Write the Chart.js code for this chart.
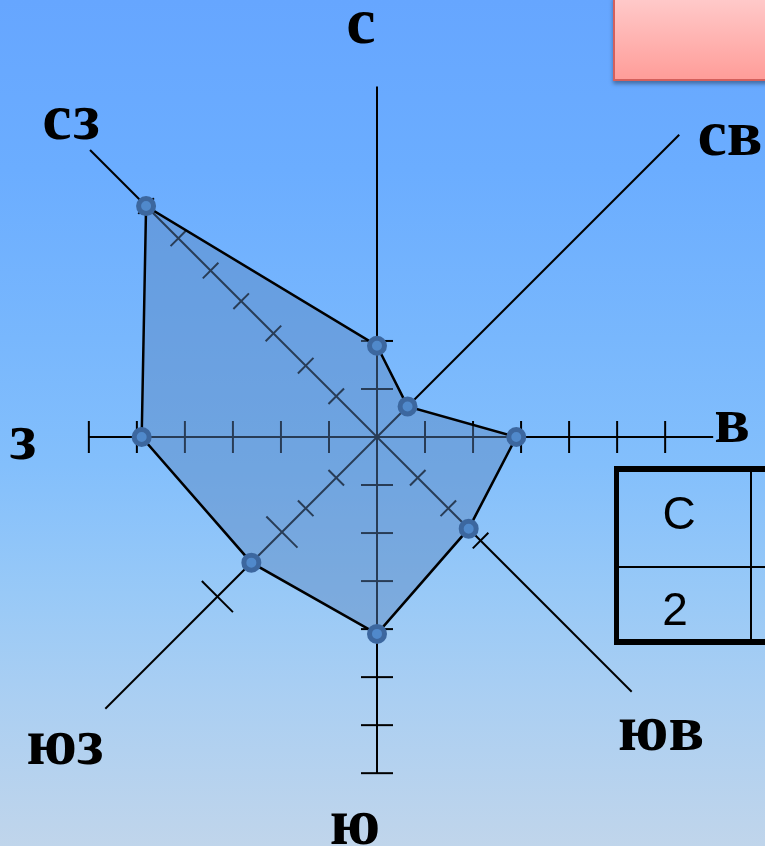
<!DOCTYPE html>
<html lang="ru">
<head>
    <meta charset="UTF-8">
    <title>Роза ветров</title>
    <script src="https://cdn.jsdelivr.net/npm/chart.js"></script>
    <style>
        html, body {
            margin: 0;
            padding: 0;
        }
        body {
            width: 765px;
            height: 846px;
            overflow: hidden;
            position: relative;
            background: linear-gradient(to bottom, #66a6ff 0%, #6badff 20%, #78b7fd 40%, #83bffc 55%, #98c9f7 70%, #abcff2 83%, #c0d5eb 100%);
        }
        #rose {
            position: absolute;
            left: 0;
            top: 0;
        }
        .note {
            position: absolute;
            left: 613px;
            top: -4px;
            width: 200px;
            height: 85px;
            box-sizing: border-box;
            border: 2px solid #d4605c;
            background: linear-gradient(to bottom, #ffcaca, #ff9d99);
            box-shadow: 0 3px 4px rgba(0, 0, 0, 0.35);
        }
        .table {
            position: absolute;
            left: 614px;
            top: 466px;
            width: 220px;
            height: 179px;
            box-sizing: border-box;
            border: 6px solid #000;
            border-left-width: 5px;
        }
        .table .hline {
            position: absolute;
            left: 0;
            right: 0;
            top: 94px;
            height: 2px;
            background: #000;
        }
        .table .vline {
            position: absolute;
            left: 131px;
            top: 0;
            bottom: 0;
            width: 2px;
            background: #000;
        }
        .table .cell {
            position: absolute;
            width: 80px;
            text-align: center;
            font-family: "Liberation Sans", Arial, sans-serif;
            font-size: 46px;
            line-height: 46px;
            color: #000;
        }
    </style>
</head>
<body>
    <canvas id="rose" width="765" height="846"></canvas>
    <div class="note"></div>
    <div class="table">
        <div class="hline"></div>
        <div class="vline"></div>
        <div class="cell" style="left: 20px; top: 18px;">С</div>
        <div class="cell" style="left: 16px; top: 114px;">2</div>
    </div>

    <script>
        // directions clockwise from north
        const directions = ['с', 'св', 'в', 'юв', 'ю', 'юз', 'з', 'сз'];
        const values = [1.9, 0.9, 2.9, 2.7, 4.1, 3.7, 4.9, 6.8];

        // how far each axis line is drawn, in scale units
        const axisLength = [7.3, 8.9, 7.0, 7.5, 7.0, 8.0, 6.0, 8.45];

        // tick marks along each axis
        const tickMarks = [
            [1, 2],
            [],
            [1, 2, 3, 4, 5, 6],
            [1.2, 2.1, 3.05],
            [1, 2, 3, 4, 5, 6, 7],
            [1.2, 2.1],
            [1, 2, 3, 4, 5, 6],
            [1.2, 2.1, 3.05, 4.0, 4.9, 5.85, 6.8]
        ];
        const bigTickMarks = [[], [], [], [], [], [2.8, 4.7], [], []];

        const tickHalf = [16, 11, 16, 11, 16, 11, 16, 11];

        // label anchor (text center, baseline) relative to the rose center
        const labelOffset = [
            [-16, -394], [353, -282], [355, 5], [284, 313],
            [-22, 407], [-312, 327], [-354, 22], [-306, -298]
        ];

        const rosePlugin = {
            id: 'rose',
            beforeDatasetsDraw(chart) {
                const r = chart.scales.r;
                const ctx = chart.ctx;
                ctx.save();
                ctx.strokeStyle = '#000';
                ctx.lineWidth = 2;
                directions.forEach((d, i) => {
                    const end = r.getPointPosition(i, r.getDistanceFromCenterForValue(axisLength[i]));
                    ctx.beginPath();
                    ctx.moveTo(r.xCenter, r.yCenter);
                    ctx.lineTo(end.x, end.y);
                    ctx.stroke();

                    const nx = -Math.sin(end.angle);
                    const ny = Math.cos(end.angle);
                    const drawTick = (v, h) => {
                        const p = r.getPointPosition(i, r.getDistanceFromCenterForValue(v));
                        ctx.beginPath();
                        ctx.moveTo(p.x - nx * h, p.y - ny * h);
                        ctx.lineTo(p.x + nx * h, p.y + ny * h);
                        ctx.stroke();
                    };
                    tickMarks[i].forEach(v => drawTick(v, tickHalf[i]));
                    bigTickMarks[i].forEach(v => drawTick(v, 22));
                });
                ctx.restore();
            },
            afterDraw(chart) {
                const r = chart.scales.r;
                const ctx = chart.ctx;
                ctx.save();
                ctx.fillStyle = '#000';
                ctx.font = 'bold 66px "Liberation Serif", "Times New Roman", serif';
                ctx.textAlign = 'center';
                ctx.textBaseline = 'alphabetic';
                directions.forEach((d, i) => {
                    ctx.fillText(d, r.xCenter + labelOffset[i][0], r.yCenter + labelOffset[i][1]);
                });
                ctx.restore();
            }
        };

        new Chart(document.getElementById('rose'), {
            type: 'radar',
            data: {
                labels: directions,
                datasets: [{
                    data: values,
                    fill: true,
                    backgroundColor: 'rgba(88, 132, 190, 0.45)',
                    borderColor: '#000',
                    borderWidth: 2.5,
                    tension: 0,
                    pointRadius: 7.5,
                    pointBorderWidth: 5,
                    pointBackgroundColor: '#5089cb',
                    pointBorderColor: '#3c679f'
                }]
            },
            options: {
                responsive: false,
                animation: false,
                layout: { padding: { left: 0, right: 11, top: 28, bottom: 0 } },
                plugins: {
                    legend: { display: false },
                    tooltip: { enabled: false }
                },
                scales: {
                    r: {
                        min: 0,
                        max: 7.85,
                        ticks: { display: false },
                        grid: { display: false },
                        angleLines: { display: false },
                        pointLabels: { display: false }
                    }
                }
            },
            plugins: [rosePlugin]
        });
    </script>
</body>
</html>
